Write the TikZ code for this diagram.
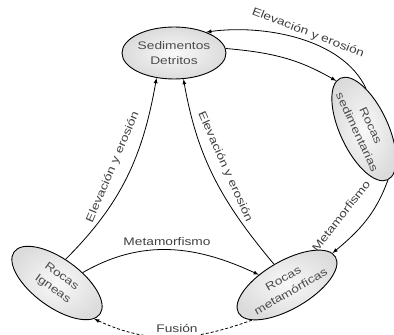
\documentclass[tikz,border=0pt]{standalone}
\usepackage{fontspec}
\setmainfont{Liberation Sans}[FakeStretch=1.25]
\usetikzlibrary{arrows,shapes.geometric}

\begin{document}
\begin{tikzpicture}[x=1pt, y=1pt, ->, >=latex, line width=0.8pt]
    \tikzstyle{rock}=[ellipse, draw, line width=0.9pt, inner xsep=-14pt, inner ysep=0pt,
        align=center, text=black!70, inner color=gray!5, outer color=gray!28,
        font=\fontsize{11}{15}\selectfont]
    \tikzstyle{proc}=[text=black!75, inner sep=0pt, font=\fontsize{11}{13}\selectfont]

    \useasboundingbox (0,0) rectangle (394,335);

    \node[rock, minimum width=104pt, minimum height=52pt] (sedimentos) at (174,282)
        {Sedimentos\\Detritos};
    \node[rock, minimum width=112pt, minimum height=48pt, rotate=-65] (sedimentarias) at (364,206)
        {Rocas\\sedimentarias};
    \node[rock, minimum width=106pt, minimum height=48pt, rotate=-36] (igneas) at (57,52)
        {Rocas\\Igneas};
    \node[rock, minimum width=112pt, minimum height=48pt, rotate=30] (metamorficas) at (287,50)
        {Rocas\\metamórficas};

    \path
    (sedimentos.5)      edge [out=-5, in=150] (sedimentarias.185)
    (sedimentarias.152) edge [out=115, in=8, looseness=0.85] (sedimentos.33)
    (sedimentarias.0)   edge [out=-110, in=40] (metamorficas.5)
    (igneas.106)        edge [out=45, in=-100] (sedimentos.235)
    (metamorficas.92)   edge [out=130, in=-80] (sedimentos.290)
    (igneas.58)         edge [out=30, in=155] (metamorficas.130)
    (metamorficas.195)  edge [out=-160, in=-25, dash pattern=on 3pt off 2pt] (igneas.352);

    \node[proc, rotate=-21] (elevsup) at (308,302) {Elevación y erosión};
    \node[proc, rotate=52] (metader) at (341,119) {Metamorfismo};
    \node[proc, rotate=67] (elevizq) at (113,168) {Elevación y erosión};
    \node[proc, rotate=-66] (elevcen) at (225,168) {Elevación y erosión};
    \node[proc] (metainf) at (167,93) {Metamorfismo};
    \node[proc, fill=white, inner sep=1.5pt] (fusion) at (177,6) {Fusión};

\end{tikzpicture}
\end{document}
